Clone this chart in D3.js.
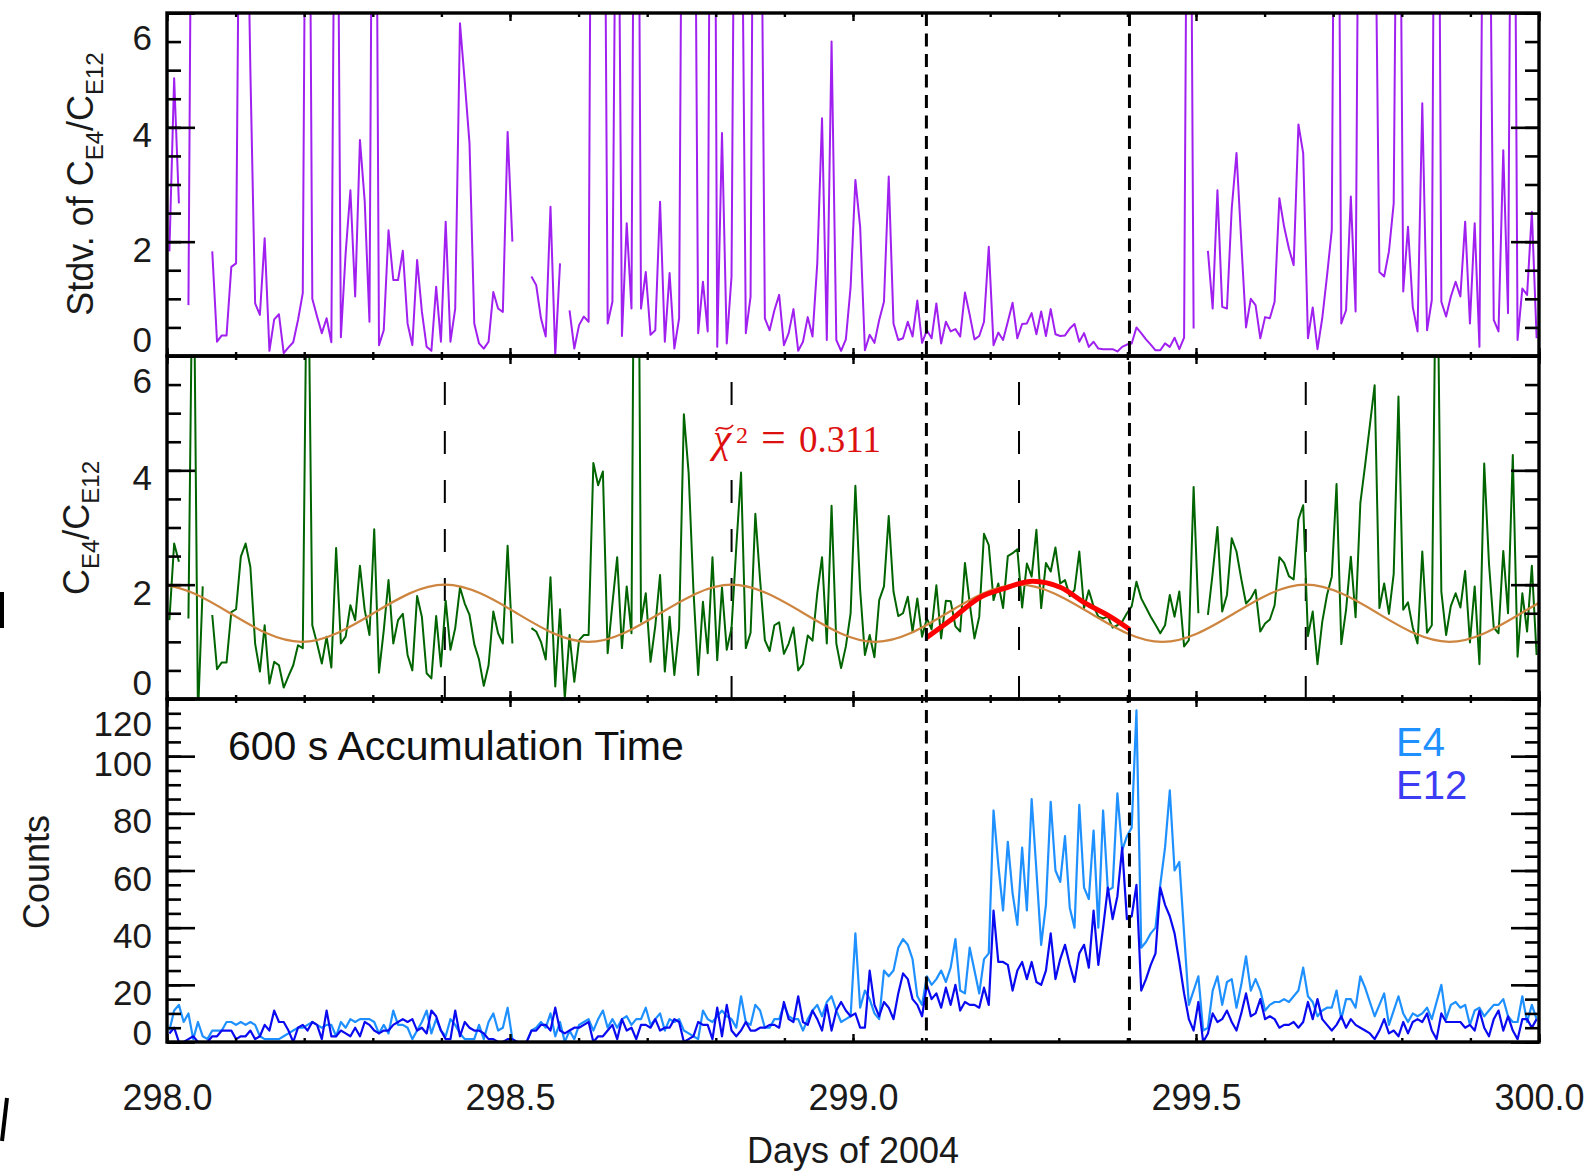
<!DOCTYPE html>
<html>
<head>
<meta charset="utf-8">
<script src="https://cdn.jsdelivr.net/npm/d3@7"></script>
<style>
  html, body { margin: 0; padding: 0; background: #fff; overflow: hidden; }
  svg { display: block; font-family: "Liberation Sans", Arial, Helvetica, sans-serif; }
</style>
</head>
<body>
<svg id="chart" width="1587" height="1172"></svg>
<script>
// ---------------------------------------------------------------
// Data: 600 s samples over days 298-300 of 2004 (288 samples)
// null = no valid ratio for that interval
// ---------------------------------------------------------------
const startDay = 298;
const accumulationDays = 600 / 86400;

// standard deviation of C_E4/C_E12 (values above 6 run off the panel)
const stdvRatio = [
  1.83,4.86,2.67,null,0.89,14,null,null,null,1.83,
  0.25,0.36,0.36,1.56,1.62,12,10,5.0,0.92,0.72,
  2.06,0.09,0.64,0.73,0.05,0.15,0.24,0.63,1.1,15,
  1.0,0.69,0.4,0.66,0.24,13,0.33,1.8,2.9,1.04,
  3.78,2.71,0.6,16,0.19,0.45,2.2,1.33,1.33,1.84,
  0.57,0.19,1.68,0.78,0.16,0.09,1.21,0.25,2.35,0.25,
  0.83,5.82,4.8,3.72,0.57,0.22,0.13,0.25,1.12,0.83,
  0.77,3.92,2.0,null,null,null,1.39,1.24,0.66,0.34,
  2.61,0.02,1.62,null,0.8,0.13,0.54,0.69,0.6,18,
  11,14,0.57,0.95,12,0.35,2.32,0.83,17,0.83,
  1.47,0.37,0.45,2.7,0.25,1.45,0.13,0.66,15,9,
  13,0.4,1.3,0.43,19,0.16,3.9,0.22,1.39,14,
  10,0.4,1.04,16,11,0.66,0.45,0.8,1.07,0.19,
  0.4,0.82,0.09,0.25,0.68,0.34,1.62,4.16,0.28,5.5,
  0.28,0.09,0.29,1.21,3.08,2.26,0.1,0.37,0.23,0.63,
  0.95,3.14,0.57,0.28,0.31,0.6,0.34,0.97,0.23,0.45,
  0.31,0.92,0.22,0.6,0.43,0.47,0.34,1.11,0.72,0.29,
  0.35,0.6,1.91,0.19,0.41,0.28,0.6,0.93,0.31,0.56,
  0.57,0.75,0.38,0.78,0.35,0.82,0.38,0.35,0.36,0.48,
  0.56,0.25,0.4,0.16,0.25,0.13,0.12,0.12,0.12,0.08,
  0.16,0.2,0.22,0.5,0.4,0.29,0.2,0.1,0.1,0.22,
  0.16,0.32,0.12,0.32,15,0.48,null,null,1.84,0.83,
  2.9,0.86,0.83,2.58,3.55,2.0,0.5,1.0,0.89,0.31,
  0.68,0.66,0.95,2.76,2.26,1.88,1.59,4.05,3.55,0.31,
  0.85,0.12,0.66,1.4,2.2,16,0.57,0.8,2.79,0.78,
  14,10,12,9,1.47,1.39,1.83,2.67,13,1.13,
  2.26,0.86,0.43,4.42,0.45,0.98,17,0.95,0.69,1.04,
  1.3,1.04,2.35,0.57,2.32,0.16,12,10,0.63,0.43,
  3.6,0.75,15,0.28,1.18,1.07,2.52,0.31
];

// count ratio C_E4/C_E12
const countRatio = [
  1.38,2.72,2.4,null,1.41,9,-0.3,1.97,null,1.47,
  0.52,0.64,0.64,1.52,1.57,2.49,2.72,2.31,0.97,0.48,
  1.29,0.27,0.65,0.59,0.2,0.4,0.59,0.94,0.89,9,
  1.29,0.97,0.62,1.09,0.55,2.64,0.97,1.09,1.64,1.38,
  2.33,1.56,1.12,2.97,0.46,1.2,2.08,0.97,1.38,1.49,
  0.77,0.5,1.8,1.44,0.45,0.36,1.45,0.57,1.72,0.86,
  1.24,1.95,1.67,1.47,0.96,0.69,0.23,0.59,1.53,1.15,
  0.97,2.68,0.97,null,null,null,1.24,1.18,1.0,0.69,
  2.13,0.22,1.57,0.01,1.12,0.3,1.03,1.12,1.12,4.13,
  3.74,3.98,0.8,1.67,2.48,0.89,1.97,1.15,15,1.35,
  1.85,0.65,1.28,2.17,0.48,1.44,0.42,1.24,4.98,3.95,
  1.91,0.42,1.7,0.8,2.48,0.68,1.95,0.86,1.24,2.66,
  3.96,0.89,1.16,3.24,2.08,1.03,0.84,1.29,1.34,0.79,
  0.97,1.25,0.5,0.61,1.11,1.02,1.85,2.48,0.97,3.38,
  0.97,0.54,0.92,1.5,3.73,1.91,0.77,1.12,0.73,1.73,
  1.97,3.2,1.88,1.45,1.5,1.79,1.18,1.76,1.09,1.41,
  1.22,1.99,1.06,1.72,1.71,1.27,1.18,2.38,1.67,1.06,
  1.44,2.89,2.69,1.73,2.02,1.59,2.5,2.55,2.62,1.6,
  2.37,2.14,2.96,1.59,2.38,2.23,2.65,2.02,2.08,1.8,
  1.91,2.58,1.59,1.9,1.62,1.44,1.41,1.44,1.25,1.29,
  1.35,1.5,1.62,2.05,1.76,1.6,1.44,1.3,1.15,1.29,
  1.82,1.44,1.88,0.92,1.03,3.71,1.5,null,1.47,2.2,
  3.01,1.53,1.82,2.81,2.58,2.1,1.67,1.76,1.91,1.18,
  1.32,1.39,1.64,2.48,2.38,2.15,2.09,3.14,3.39,1.1,
  1.53,0.61,1.35,1.82,2.14,3.76,0.96,1.56,2.49,1.43,
  3.43,4.09,4.79,5.49,1.59,2.02,1.49,2.19,5.29,1.56,
  1.69,1.25,0.97,2.58,1.16,1.29,9,1.88,1.12,1.63,
  1.85,1.6,2.24,0.99,1.97,0.61,4.12,2.37,1.25,1.15,
  2.59,1.5,4.27,0.74,1.85,1.18,2.33,0.77
];

// counts per 600 s, channel E4
const countsE4 = [
  4,11,13,7,10,1,7,2,1,4,
  4,4,7,7,6,7,6,7,6,2,
  1,1,1,1,2,3,4,5,5,6,
  7,6,5,6,6,2,7,5,8,7,
  8,8,8,7,3,6,3,11,6,6,
  5,1,4,7,11,3,8,4,2,8,
  6,3,1,1,1,6,1,7,10,4,
  5,12,1,0,0,0,4,5,7,5,
  10,2,7,0,4,1,6,7,8,4,
  8,11,5,8,5,8,9,6,8,8,
  12,6,8,10,4,8,7,8,4,3,
  2,1,11,8,7,9,11,9,8,5,
  16,7,6,13,11,5,5,8,8,13,
  9,8,8,4,8,11,13,9,14,16,
  11,7,8,9,38,12,18,15,10,8,
  25,23,25,33,36,34,29,16,13,23,
  20,22,25,21,26,36,18,17,33,25,
  17,29,31,81,62,46,70,52,41,68,
  46,85,60,34,48,84,60,56,72,47,
  40,83,54,50,74,40,81,53,54,87,
  67,72,75,116,33,35,38,40,55,68,
  88,60,63,38,13,18,23,4,5,18,
  23,13,21,22,12,20,30,18,22,18,
  11,13,14,14,15,14,16,18,26,16,
  14,9,11,12,12,18,8,15,15,12,
  23,19,14,9,13,17,6,11,16,10,
  7,10,9,10,12,8,14,20,8,13,
  14,12,13,6,11,12,9,11,13,13,
  15,9,7,7,16,7,13,8
];

// counts per 600 s, channel E12
const countsE12 = [
  3,5,0,0,1,2,0,0,0,2,
  2,4,4,4,1,2,2,4,1,2,
  6,4,11,7,7,4,0,5,6,4,
  7,6,1,11,2,2,4,3,2,5,
  2,7,6,4,3,4,4,6,7,8,
  7,8,4,5,3,11,9,4,1,1,
  11,2,7,5,4,4,3,1,1,0,
  0,1,1,0,0,0,4,4,6,6,
  4,12,4,3,4,5,5,6,7,0,
  2,2,4,6,1,8,4,5,1,6,
  6,5,8,4,5,5,8,7,0,1,
  2,7,6,6,1,12,2,13,4,2,
  4,7,4,4,5,5,6,6,5,14,
  8,7,16,7,6,11,8,4,13,4,
  11,14,11,9,10,5,5,25,13,9,
  14,12,8,17,24,22,15,13,9,20,
  15,17,12,19,13,20,11,14,13,13,
  12,19,13,46,28,28,27,18,25,28,
  22,28,21,20,25,38,22,29,34,27,
  21,31,34,26,46,27,40,54,43,51,
  68,43,44,55,18,22,27,31,54,48,
  44,38,28,17,8,4,14,0,3,10,
  7,8,11,7,4,10,17,9,10,15,
  8,9,8,5,6,6,7,5,7,14,
  8,15,8,6,4,6,9,5,8,6,
  5,4,3,1,4,8,3,4,2,7,
  3,7,8,7,10,4,1,10,7,7,
  7,7,5,6,4,11,5,2,8,11,
  4,9,4,1,8,8,5,8
];

// periodic model curve (day, ratio) through its extrema and mid-points
const modelDays   = [297.883,297.987,298.092,298.196,298.301,298.405,298.510,298.614,298.719,298.823,298.928,
                     299.033,299.137,299.242,299.346,299.451,299.556,299.660,299.765,299.869,299.974,300.078,300.183];
const modelRatio  = [1.5,2.0,1.5,1.0,1.5,2.0,1.5,1.0,1.5,2.0,1.5,
                     1.0,1.5,2.0,1.5,1.0,1.5,2.0,1.5,1.0,1.5,2.0,1.5];

// local fit inside the marked interval
const fitDays  = [299.107,299.139,299.187,299.217,299.262,299.303,299.338,299.375,299.403];
const fitRatio = [1.07,1.35,1.79,1.92,2.06,1.95,1.68,1.44,1.22];
const fitLabel = "0.311";

// interval boundaries and model maxima
const intervalDays = [299.107, 299.403];
const modelPeakDays = [298.405, 298.823, 299.242, 299.660];

// axis ticks
const xMajorTicks = [298.0, 298.5, 299.0, 299.5, 300.0];
const xMinorTicks = d3.range(298.0, 300.001, 0.1);
const ratioMajorTicks = [0, 2, 4, 6];
const ratioMinorTicks = d3.range(0, 6.001, 0.5);
const countMajorTicks = [0, 20, 40, 60, 80, 100, 120];
const countMinorTicks = d3.range(0, 120.001, 5);

// ---------------------------------------------------------------
// Layout
// ---------------------------------------------------------------
const svg = d3.select("#chart");
const left = 167, right = 1539;
const panels = [
  { id: "stdv",  top: 13,  bottom: 356, zeroDy: "-0.14em" },
  { id: "ratio", top: 356, bottom: 699, zeroDy: "-0.14em" },
  { id: "count", top: 699, bottom: 1042, zeroDy: "0.08em" }
];

const x = d3.scaleLinear().domain([298, 300]).range([left, right]);
const yStdv  = d3.scaleLinear().domain([0, 6]).range([panels[0].bottom, panels[0].top]);
const yRatio = d3.scaleLinear().domain([0, 6]).range([panels[1].bottom, panels[1].top]);
const yCount = d3.scaleLinear().domain([0, 120]).range([panels[2].bottom, panels[2].top]);

const sampleDay = i => startDay + (i + 0.5) * accumulationDays;

// clip paths
const defs = svg.append("defs");
panels.forEach(p => {
  defs.append("clipPath").attr("id", "clip-" + p.id)
    .append("rect").attr("x", left).attr("y", p.top)
    .attr("width", right - left).attr("height", p.bottom - p.top);
});

function seriesLine(values, yScale, skipMissing) {
  let pts = values.map((v, i) => ({ t: sampleDay(i), v }));
  if (skipMissing) pts = pts.filter(d => d.v != null);
  return d3.line().defined(d => d.v != null).x(d => x(d.t)).y(d => yScale(d.v))(pts);
}

// ---------------------------------------------------------------
// Panel 1: standard deviation
// ---------------------------------------------------------------
svg.append("g").attr("clip-path", "url(#clip-stdv)")
  .append("path").attr("d", seriesLine(stdvRatio, yStdv, false))
  .attr("fill", "none").attr("stroke", "#a020f0").attr("stroke-width", 2)
  .attr("stroke-linejoin", "round");

// ---------------------------------------------------------------
// Panel 2: ratio, model curve and local fit
// ---------------------------------------------------------------
const gRatio = svg.append("g").attr("clip-path", "url(#clip-ratio)");

gRatio.selectAll("line.peak").data(modelPeakDays).join("line")
  .attr("class", "peak")
  .attr("x1", d => x(d)).attr("x2", d => x(d))
  .attr("y1", panels[1].top).attr("y2", panels[1].bottom)
  .attr("stroke", "#000").attr("stroke-width", 2)
  .attr("stroke-dasharray", "23,26").attr("stroke-dashoffset", 23);

gRatio.append("path").attr("d", seriesLine(countRatio, yRatio, false))
  .attr("fill", "none").attr("stroke", "#006400").attr("stroke-width", 2)
  .attr("stroke-linejoin", "round");

gRatio.append("path")
  .attr("d", d3.line().curve(d3.curveNatural)
    .x((d, i) => x(modelDays[i])).y(d => yRatio(d))(modelRatio))
  .attr("fill", "none").attr("stroke", "#cd853f").attr("stroke-width", 2.2);

gRatio.append("path")
  .attr("d", d3.line().curve(d3.curveMonotoneX)
    .x((d, i) => x(fitDays[i])).y(d => yRatio(d))(fitRatio))
  .attr("fill", "none").attr("stroke", "#ff0000").attr("stroke-width", 5)
  .attr("stroke-linecap", "butt");

// reduced chi-square annotation on a plain background box
const chiFont = "'Liberation Serif', 'DejaVu Serif', serif";
const chiColor = "#dd1010";
svg.append("rect").attr("x", 706).attr("y", 419).attr("width", 180).attr("height", 44)
  .attr("fill", "#fff");
const chi = svg.append("text")
  .attr("x", 713).attr("y", 452)
  .attr("fill", chiColor)
  .style("font-family", chiFont)
  .style("font-size", "37px");
chi.append("tspan").style("font-style", "italic").style("font-size", "41px").text("\u03C7");
chi.append("tspan").attr("x", 736).attr("dy", -9).style("font-size", "24px").text("2");
chi.append("tspan").attr("x", 761).attr("dy", 9).style("font-size", "44px").text("=");
chi.append("tspan").attr("x", 799).text(fitLabel);
// tilde accent over the chi
const tilde = d3.path();
tilde.moveTo(716, 431);
tilde.bezierCurveTo(720, 423, 726, 434, 733, 425);
svg.append("path").attr("d", tilde.toString())
  .attr("fill", "none").attr("stroke", chiColor).attr("stroke-width", 1.8);

// ---------------------------------------------------------------
// Panel 3: counts
// ---------------------------------------------------------------
const gCount = svg.append("g").attr("clip-path", "url(#clip-count)");
gCount.append("path").attr("d", seriesLine(countsE4, yCount, true))
  .attr("fill", "none").attr("stroke", "#1e90ff").attr("stroke-width", 2.2)
  .attr("stroke-linejoin", "round");
gCount.append("path").attr("d", seriesLine(countsE12, yCount, true))
  .attr("fill", "none").attr("stroke", "#0a0af0").attr("stroke-width", 2.2)
  .attr("stroke-linejoin", "round");

svg.append("text").attr("x", 228).attr("y", 760)
  .style("font-size", "41px").attr("fill", "#111")
  .text("600 s Accumulation Time");
svg.append("text").attr("x", 1396).attr("y", 756)
  .style("font-size", "40px").attr("fill", "#1e90ff").text("E4");
svg.append("text").attr("x", 1396).attr("y", 799)
  .style("font-size", "40px").attr("fill", "#3c3cf5").text("E12");

// ---------------------------------------------------------------
// Interval markers across all panels
// ---------------------------------------------------------------
svg.selectAll("line.interval").data(intervalDays).join("line")
  .attr("class", "interval")
  .attr("x1", d => x(d)).attr("x2", d => x(d))
  .attr("y1", panels[0].top).attr("y2", panels[2].bottom)
  .attr("stroke", "#000").attr("stroke-width", 3)
  .attr("stroke-dasharray", "13,7.5");

// ---------------------------------------------------------------
// Frames and ticks
// ---------------------------------------------------------------
function styleAxis(g, width) {
  g.select(".domain").remove();
  g.selectAll(".tick line").attr("stroke", "#000").attr("stroke-width", width);
  g.selectAll(".tick text").remove();
}

const yScales = [yStdv, yRatio, yCount];
const yMajors = [ratioMajorTicks, ratioMajorTicks, countMajorTicks];
const yMinors = [ratioMinorTicks, ratioMinorTicks, countMinorTicks];

panels.forEach((p, k) => {
  const y = yScales[k];
  // y ticks, inward on both sides
  svg.append("g").attr("transform", `translate(${left},0)`)
    .call(d3.axisLeft(y).tickValues(yMinors[k]).tickSize(-14)).call(g => styleAxis(g, 2.6));
  svg.append("g").attr("transform", `translate(${left},0)`)
    .call(d3.axisLeft(y).tickValues(yMajors[k]).tickSize(-28)).call(g => styleAxis(g, 2.6));
  svg.append("g").attr("transform", `translate(${right},0)`)
    .call(d3.axisRight(y).tickValues(yMinors[k]).tickSize(-14)).call(g => styleAxis(g, 2.6));
  svg.append("g").attr("transform", `translate(${right},0)`)
    .call(d3.axisRight(y).tickValues(yMajors[k]).tickSize(-28)).call(g => styleAxis(g, 2.6));
  // x ticks, inward on top and bottom
  svg.append("g").attr("transform", `translate(0,${p.top})`)
    .call(d3.axisTop(x).tickValues(xMinorTicks).tickSize(-4)).call(g => styleAxis(g, 2.4));
  svg.append("g").attr("transform", `translate(0,${p.top})`)
    .call(d3.axisTop(x).tickValues(xMajorTicks).tickSize(-8)).call(g => styleAxis(g, 2.4));
  svg.append("g").attr("transform", `translate(0,${p.bottom})`)
    .call(d3.axisBottom(x).tickValues(xMinorTicks).tickSize(-4)).call(g => styleAxis(g, 2.4));
  svg.append("g").attr("transform", `translate(0,${p.bottom})`)
    .call(d3.axisBottom(x).tickValues(xMajorTicks).tickSize(-8)).call(g => styleAxis(g, 2.4));

  // frame
  svg.append("rect").attr("x", left).attr("y", p.top)
    .attr("width", right - left).attr("height", p.bottom - p.top)
    .attr("fill", "none").attr("stroke", "#000").attr("stroke-width", 3.4);

  // y tick labels: end labels are pulled inside the panel
  const lab = svg.append("g").attr("transform", `translate(${left},0)`)
    .call(d3.axisLeft(y).tickValues(yMajors[k]).tickSize(0).tickPadding(15)
      .tickFormat(d3.format("d")));
  lab.select(".domain").remove();
  const n = yMajors[k].length;
  lab.selectAll(".tick text")
    .attr("fill", "#1a1a1a")
    .style("font-size", "35px")
    .style("font-family", "'Liberation Sans', Arial, sans-serif")
    .attr("dy", (d, i) => i === n - 1 ? "1.04em" : (i === 0 ? p.zeroDy : "0.56em"));
});

// x tick labels
const xLab = svg.append("g").attr("transform", `translate(0,${panels[2].bottom})`)
  .call(d3.axisBottom(x).tickValues(xMajorTicks).tickSize(0).tickPadding(42)
    .tickFormat(d3.format(".1f")));
xLab.select(".domain").remove();
xLab.selectAll(".tick text").attr("fill", "#1a1a1a")
  .style("font-size", "36px").style("font-family", "'Liberation Sans', Arial, sans-serif");

svg.append("text").attr("x", x(299)).attr("y", 1163)
  .attr("text-anchor", "middle").style("font-size", "36px").attr("fill", "#1a1a1a")
  .text("Days of 2004");

// ---------------------------------------------------------------
// Axis titles
// ---------------------------------------------------------------
function ratioTitle(tx, ty, prefix) {
  const t = svg.append("text")
    .attr("transform", `translate(${tx},${ty}) rotate(-90)`)
    .attr("text-anchor", "middle").attr("fill", "#1a1a1a")
    .style("font-size", "36px");
  t.append("tspan").text(prefix + "C");
  t.append("tspan").attr("dy", 10).style("font-size", "24px").text("E4");
  t.append("tspan").attr("dy", -10).text("/C");
  t.append("tspan").attr("dy", 10).style("font-size", "24px").text("E12");
}
ratioTitle(93, 184, "Stdv. of ");
ratioTitle(89, 528, "");

svg.append("text")
  .attr("transform", "translate(49,872) rotate(-90)")
  .attr("text-anchor", "middle").attr("fill", "#1a1a1a")
  .style("font-size", "36px").text("Counts");

// edge marks at the left margin
svg.append("line").attr("x1", 2).attr("y1", 592).attr("x2", 2).attr("y2", 628)
  .attr("stroke", "#000").attr("stroke-width", 4);
svg.append("line").attr("x1", 7).attr("y1", 1098).attr("x2", 2).attr("y2", 1141)
  .attr("stroke", "#000").attr("stroke-width", 4);
</script>
</body>
</html>
